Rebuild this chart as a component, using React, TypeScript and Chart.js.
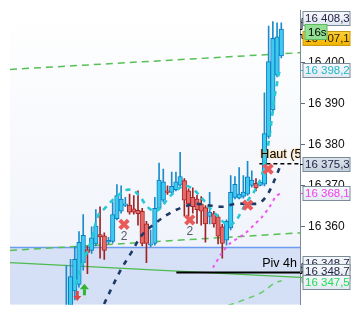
import { useEffect, useRef } from "react";
import { Chart, registerables } from "chart.js";

Chart.register(...registerables);

// ---------- data ----------
const candleOpen = [16336.0, 16338.0, 16344.2, 16345.8, 16351.1, 16354.3, 16354.1, 16355.7, 16358.0, 16357.7, 16356.1, 16356.3, 16361.9, 16363.7, 16365.1, 16365.2, 16364.3, 16363.9, 16363.7, 16360.6, 16355.4, 16355.8, 16364.4, 16366.4, 16368.7, 16368.3, 16369.0, 16370.1, 16371.2, 16368.7, 16367.1, 16366.7, 16365.5, 16364.6, 16362.4, 16363.1, 16362.3, 16359.9, 16356.6, 16359.6, 16367.1, 16366.9, 16367.3, 16367.9, 16370.0, 16370.5, 16370.0, 16370.3, 16382.0, 16388.5, 16397.0, 16401.7];
const candleHigh = [16350.4, 16351.9, 16355.0, 16358.7, 16362.9, 16355.2, 16359.9, 16364.1, 16364.8, 16358.4, 16357.3, 16366.0, 16370.2, 16369.9, 16367.1, 16367.9, 16367.5, 16368.7, 16364.4, 16361.2, 16359.1, 16367.1, 16375.5, 16374.0, 16369.9, 16373.3, 16373.3, 16378.1, 16371.7, 16369.2, 16369.4, 16367.6, 16367.3, 16365.1, 16368.3, 16363.7, 16362.8, 16360.5, 16361.6, 16372.4, 16372.2, 16374.4, 16372.4, 16375.9, 16373.6, 16371.7, 16371.0, 16392.7, 16409.0, 16410.1, 16409.8, 16409.8];
const candleLow = [16335.0, 16336.0, 16342.0, 16345.1, 16349.3, 16348.4, 16353.4, 16355.2, 16352.2, 16351.9, 16355.7, 16355.9, 16361.6, 16363.2, 16364.8, 16363.0, 16363.0, 16360.3, 16355.2, 16351.1, 16355.0, 16355.4, 16364.1, 16366.0, 16367.8, 16367.8, 16368.7, 16369.6, 16362.5, 16362.5, 16363.2, 16360.7, 16360.3, 16356.1, 16360.6, 16359.8, 16355.7, 16352.2, 16355.4, 16359.1, 16366.7, 16366.7, 16366.9, 16367.6, 16369.6, 16368.7, 16369.9, 16369.9, 16381.5, 16387.7, 16396.6, 16401.2];
const candleClose = [16340.0, 16347.7, 16351.9, 16356.1, 16357.8, 16353.6, 16357.2, 16360.0, 16357.4, 16354.1, 16356.6, 16362.9, 16367.5, 16366.7, 16365.5, 16363.5, 16363.5, 16363.1, 16355.8, 16355.8, 16355.7, 16364.4, 16371.3, 16370.9, 16368.3, 16369.8, 16370.9, 16372.2, 16366.4, 16365.5, 16364.8, 16364.1, 16363.7, 16360.6, 16363.5, 16360.6, 16357.6, 16355.8, 16361.2, 16368.3, 16370.3, 16367.9, 16368.4, 16372.1, 16371.3, 16369.4, 16370.8, 16382.7, 16400.3, 16406.0, 16406.4, 16408.3];

// cyan dashed curve
const cyanX = [2.22, 3.37, 4.75, 6.12, 7.61, 9.11, 10.94, 12.55, 14.15, 15.99, 17.59, 19.2, 21.06, 22.64, 24.01, 25.62, 27.91, 29.75, 31.35, 32.73, 34.1, 35.94, 37.32, 38.69, 40.07, 41.22, 42.82, 44.66, 46.26, 47.41, 48.1, 48.78, 49.24, 49.93, 50.39, 50.85];
const cyanY = [16345.8, 16349.7, 16353.3, 16357.3, 16362.8, 16364.4, 16366.4, 16367.8, 16368.9, 16368.7, 16367.1, 16364.8, 16363.7, 16364.8, 16366.7, 16368.3, 16369.9, 16369.4, 16367.8, 16366.2, 16364.4, 16362.5, 16361.0, 16360.3, 16361.2, 16363.0, 16366.0, 16368.7, 16372.1, 16377.4, 16381.3, 16386.6, 16390.7, 16394.6, 16397.3, 16398.2];

// navy dashed curve
const navyX = [7.96, 9.1, 10.94, 13.0, 15.3, 18.05, 21.06, 24.5, 27.91, 30.89, 34.1, 37.09, 40.07, 43.97, 45.8, 47.41, 48.56, 49.7, 50.62];
const navyY = [16338.5, 16341.3, 16345.3, 16349.5, 16353.4, 16358.0, 16360.7, 16363.2, 16364.8, 16365.5, 16365.1, 16364.8, 16365.5, 16365.5, 16365.7, 16367.3, 16369.4, 16372.1, 16374.4];

// magenta dashed curve
const magentaX = [34.79, 37.09, 38.92, 40.53, 42.36, 44.66, 46.26, 48.1, 49.7, 50.85];
const magentaY = [16349.9, 16353.8, 16355.9, 16357.0, 16358.2, 16360.5, 16362.1, 16364.6, 16367.3, 16368.1];

// lower-right green dashed curve
const greenLowX = [35.92, 44.66, 46.95, 49.24, 51.08];
const greenLowY = [16339.7, 16343.0, 16344.2, 16346.0, 16346.7];

// straight trend lines (value at left edge, value at right edge)
const upperGreenDashed = [16398.4, 16402.5];
const lowerGreenDashed = [16354.1, 16358.4];
const solidGreen = [16351.1, 16347.5];
const zoneLevel = 16354.8;
const pivLevel = 16348.7;
const pivStart = 26.1;
const hautLevel = 16375.3;
const hautStart = 45.8;

// signal markers
const markerX = [13.69, 29.29, 43.05, 47.87];
const markerY = [16360.5, 16361.6, 16365.2, 16374.0];
const markerTags = ["2", "2", "", ""];
const upArrowX = [4.29];
const upArrowY = [16344.6];
const downArrowX = [2.6];
const downArrowY = [16343.2];

// right side price labels
const priceLabelValues = [16408.3, 16407.1, 16398.2, 16375.3, 16368.1, 16348.7, 16348.7, 16347.5];
const timerTag = "16s";
const yTicks = [16350, 16360, 16370, 16380, 16390, 16400, 16410];

// ---------- view / style ----------
const X_MIN = -13.37;
const X_MAX = 55.44;
const Y_MIN = 16340.8;
const Y_MAX = 16412.9;
const FONT = "'Liberation Sans', Arial, sans-serif";
const FSIZE = 11.5;

const labelStyles = [
  { dy: -11, color: "#2a2448", bg1: "#f7f9fc", bg2: "#dfe6ef", border: "#7d8a98", tick: "#000" },
  { dy: 4, color: "#2a2000", bg1: "#fcd03a", bg2: "#f2b400", border: "#c89a10", tick: "#000" },
  { dy: 0, color: "#1fb7c9", bg1: "#f6f9fc", bg2: "#e2e9f1", border: "#7d8a98", tick: "#1fb7c9" },
  { dy: 0, color: "#1c2240", bg1: "#dbe3ec", bg2: "#c3cfdc", border: "#7d8a98", tick: "#000" },
  { dy: 0, color: "#f040ee", bg1: "#f6f9fc", bg2: "#e2e9f1", border: "#7d8a98", tick: "#f040ee" },
  { dy: -10, color: "#1c2240", bg1: "#f6f9fc", bg2: "#e2e9f1", border: "#7d8a98", tick: "#000" },
  { dy: -2, color: "#1c2240", bg1: "#f6f9fc", bg2: "#e2e9f1", border: "#7d8a98", tick: "#000" },
  { dy: 5, color: "#22dd55", bg1: "#f6f9fc", bg2: "#e2e9f1", border: "#7d8a98", tick: "#3cbf3c" },
];

function fmt(v: number, dec = 0): string {
  const s = v.toFixed(dec);
  const [ip, dp] = s.split(".");
  const g = ip.replace(/\B(?=(\d{3})+(?!\d))/g, " ");
  return dp ? g + "," + dp : g;
}

const pts = (xs: number[], ys: number[]) => xs.map((x, i) => ({ x, y: ys[i] }));
const edgeLine = (v: number[]) => [{ x: X_MIN, y: v[0] }, { x: X_MAX, y: v[1] }];

const overlayPlugin = {
  id: "overlay",
  beforeDraw(chart: any) {
    const { ctx, chartArea: a } = chart;
    const g = ctx.createLinearGradient(0, a.top, 0, a.bottom);
    g.addColorStop(0, "#ffffff");
    g.addColorStop(1, "#edf1f9");
    ctx.save();
    ctx.fillStyle = g;
    ctx.fillRect(a.left, a.top, a.right - a.left, a.bottom - a.top);
    ctx.restore();
  },
  afterDraw(chart: any) {
    const { ctx, chartArea: a, scales } = chart;
    const xs = scales.x;
    const ys = scales.y;
    ctx.save();
    ctx.beginPath();
    ctx.rect(a.left, a.top, a.right - a.left, a.bottom - a.top);
    ctx.clip();

    // "2" tags under markers
    ctx.font = `12px ${FONT}`;
    ctx.fillStyle = "#555b66";
    ctx.textAlign = "center";
    ctx.textBaseline = "middle";
    markerTags.forEach((t, i) => {
      if (!t) return;
      ctx.fillText(t, xs.getPixelForValue(markerX[i]), ys.getPixelForValue(markerY[i]) + 12);
    });

    // arrows
    downArrowX.forEach((x, i) => {
      const px = xs.getPixelForValue(x);
      const py = ys.getPixelForValue(downArrowY[i]);
      ctx.fillStyle = "#e04848";
      ctx.fillRect(px - 1.5, py - 4, 3, 5);
      ctx.beginPath();
      ctx.moveTo(px - 4, py + 1);
      ctx.lineTo(px + 4, py + 1);
      ctx.lineTo(px, py + 6);
      ctx.closePath();
      ctx.fill();
    });
    upArrowX.forEach((x, i) => {
      const px = xs.getPixelForValue(x);
      const py = ys.getPixelForValue(upArrowY[i]);
      ctx.fillStyle = "#2fb52f";
      ctx.beginPath();
      ctx.moveTo(px - 4.5, py);
      ctx.lineTo(px + 4.5, py);
      ctx.lineTo(px, py - 5.5);
      ctx.closePath();
      ctx.fill();
      ctx.fillRect(px - 1.5, py, 3, 6);
    });

    // line texts
    ctx.font = `12.5px ${FONT}`;
    ctx.textBaseline = "bottom";
    ctx.textAlign = "left";
    ctx.shadowColor = "rgba(255,170,40,0.9)";
    ctx.shadowBlur = 2;
    ctx.fillStyle = "#000";
    ctx.fillText("Haut (5m", xs.getPixelForValue(hautStart) + 1, ys.getPixelForValue(hautLevel) - 3);
    ctx.shadowBlur = 0;
    ctx.shadowColor = "transparent";
    ctx.textAlign = "right";
    ctx.fillText("Piv 4h", a.right - 3, ys.getPixelForValue(pivLevel) - 3);
    ctx.restore();

    // right-side price boxes
    ctx.save();
    ctx.font = `${FSIZE}px ${FONT}`;
    ctx.textAlign = "left";
    ctx.textBaseline = "middle";
    const bx = a.right + 3;
    const bw = 47;
    const bh = 14;
    const drawBox = (k: number) => {
      const st = labelStyles[k];
      const vy = ys.getPixelForValue(priceLabelValues[k]);
      const cy = vy + st.dy;
      const top = Math.round(cy - bh / 2) + 0.5;
      ctx.strokeStyle = st.tick;
      ctx.lineWidth = 1;
      ctx.beginPath();
      ctx.moveTo(a.right, Math.round(vy) + 0.5);
      ctx.lineTo(a.right + 2, Math.round(vy) + 0.5);
      ctx.lineTo(a.right + 2, Math.round(cy) + 0.5);
      ctx.lineTo(bx, Math.round(cy) + 0.5);
      ctx.stroke();
      const g = ctx.createLinearGradient(0, top, 0, top + bh);
      g.addColorStop(0, st.bg1);
      g.addColorStop(1, st.bg2);
      ctx.fillStyle = g;
      ctx.fillRect(bx, top, bw, bh);
      ctx.strokeStyle = st.border;
      ctx.strokeRect(bx, top, bw, bh);
      ctx.fillStyle = st.color;
      ctx.fillText(fmt(priceLabelValues[k], 1), bx + 2, top + bh / 2 + 0.5);
    };
    [0, 1].forEach(drawBox);
    // timer tag over the yellow box
    {
      const vy = ys.getPixelForValue(priceLabelValues[1]);
      const top = Math.round(vy - 10) + 0.5;
      ctx.fillStyle = "#92e092";
      ctx.fillRect(a.right + 5, top, 22, 15);
      ctx.strokeStyle = "#62b862";
      ctx.strokeRect(a.right + 5, top, 22, 15);
      ctx.fillStyle = "#000";
      ctx.fillText(timerTag, a.right + 8, top + 8);
    }
    [2, 3, 4, 5, 6, 7].forEach(drawBox);
    ctx.restore();
  },
};

export default function App() {
  const ref = useRef<HTMLCanvasElement | null>(null);

  useEffect(() => {
    if (!ref.current) return;
    const n = candleOpen.length;
    const idx = Array.from({ length: n }, (_, i) => i);
    const up = idx.map((i) => candleClose[i] >= candleOpen[i]);
    const wickData = idx.map((i) => ({ x: i, y: [candleLow[i], candleHigh[i]] }));
    const bodyData = idx.map((i) => ({ x: i, y: [candleOpen[i], candleClose[i]] }));

    const chart = new Chart(ref.current, {
      type: "bar",
      data: {
        datasets: [
          {
            type: "line",
            data: edgeLine([zoneLevel, zoneLevel]),
            borderColor: "#6c9bf0",
            borderWidth: 1.5,
            backgroundColor: "rgba(170,195,240,0.38)",
            fill: "start",
            pointRadius: 0,
            order: 20,
          } as any,
          {
            type: "line",
            data: edgeLine(upperGreenDashed),
            borderColor: "#55c055",
            borderWidth: 1.5,
            borderDash: [7, 5],
            pointRadius: 0,
            fill: false,
            order: 15,
          } as any,
          {
            type: "line",
            data: edgeLine(lowerGreenDashed),
            borderColor: "#55c055",
            borderWidth: 1.5,
            borderDash: [7, 5],
            pointRadius: 0,
            fill: false,
            order: 15,
          } as any,
          {
            type: "line",
            data: edgeLine(solidGreen),
            borderColor: "#4cbb4c",
            borderWidth: 1.2,
            pointRadius: 0,
            fill: false,
            order: 15,
          } as any,
          {
            type: "line",
            data: [{ x: pivStart, y: pivLevel }, { x: X_MAX, y: pivLevel }],
            borderColor: "#000",
            borderWidth: 2,
            pointRadius: 0,
            fill: false,
            order: 14,
          } as any,
          {
            type: "line",
            data: [{ x: hautStart, y: hautLevel }, { x: X_MAX, y: hautLevel }],
            borderColor: "#000",
            borderWidth: 1.5,
            borderDash: [4, 3],
            pointRadius: 0,
            fill: false,
            order: 14,
          } as any,
          {
            type: "bar",
            data: wickData,
            backgroundColor: up.map((u) => (u ? "#1a8ccc" : "#a02222")),
            borderWidth: 0,
            barThickness: 1,
            grouped: false,
            order: 12,
          } as any,
          {
            type: "bar",
            data: bodyData,
            backgroundColor: up.map((u) => (u ? "#3ec9f1" : "#e46b6b")),
            borderColor: up.map((u) => (u ? "#0b7dbf" : "#a82626")),
            borderWidth: 1,
            borderSkipped: false,
            barThickness: 4.5,
            grouped: false,
            order: 11,
          } as any,
          {
            type: "line",
            data: pts(greenLowX, greenLowY),
            borderColor: "#66cc66",
            borderWidth: 1.5,
            borderDash: [6, 5],
            pointRadius: 0,
            tension: 0.3,
            fill: false,
            order: 6,
          } as any,
          {
            type: "line",
            data: pts(magentaX, magentaY),
            borderColor: "#ee55ee",
            borderWidth: 2,
            borderDash: [3, 4],
            pointRadius: 0,
            tension: 0.3,
            fill: false,
            order: 6,
          } as any,
          {
            type: "line",
            data: pts(navyX, navyY),
            borderColor: "#1d3a66",
            borderWidth: 2.6,
            borderDash: [5, 6],
            pointRadius: 0,
            tension: 0.35,
            fill: false,
            order: 5,
          } as any,
          {
            type: "line",
            data: pts(cyanX, cyanY),
            borderColor: "#27c9d6",
            borderWidth: 2.6,
            borderDash: [5, 5],
            pointRadius: 0,
            tension: 0.35,
            fill: false,
            order: 5,
          } as any,
          {
            type: "line",
            data: pts(markerX, markerY),
            showLine: false,
            pointStyle: "crossRot",
            pointRadius: 6,
            pointBorderWidth: 4,
            pointBorderColor: "#e95a5a",
            pointBackgroundColor: "#e95a5a",
            order: 1,
          } as any,
        ],
      },
      options: {
        animation: false,
        responsive: false,
        layout: { padding: 0 },
        plugins: { legend: { display: false }, tooltip: { enabled: false } },
        scales: {
          x: { type: "linear", min: X_MIN, max: X_MAX, display: false, offset: false },
          y: {
            type: "linear",
            position: "right",
            min: Y_MIN,
            max: Y_MAX,
            afterBuildTicks: (s: any) => {
              s.ticks = yTicks.map((v) => ({ value: v }));
            },
            afterFit: (s: any) => {
              s.width = 54;
            },
            ticks: {
              padding: 3,
              color: "#111",
              font: { family: FONT, size: 12 },
              callback: (v: any) => fmt(Number(v)),
            },
            grid: { drawOnChartArea: false, drawTicks: true, tickLength: 5, color: "#5d6d7d" },
            border: { display: true, color: "#7b8a99", width: 1 },
          },
        },
      } as any,
      plugins: [overlayPlugin],
    });
    return () => chart.destroy();
  }, []);

  return (
    <div style={{ position: "absolute", left: 0, top: 0, width: 354, height: 315 }}>
      <canvas ref={ref} width={354} height={315} />
    </div>
  );
}
